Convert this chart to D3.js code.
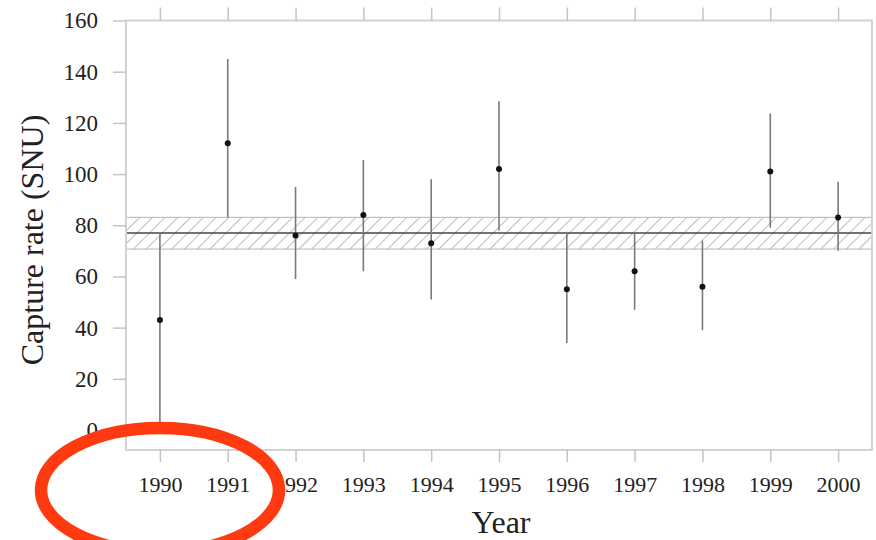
<!DOCTYPE html>
<html>
<head>
<meta charset="utf-8">
<title>Capture rate (SNU) by year</title>
<script src="https://d3js.org/d3.v7.min.js"></script>
<style>
  body { margin: 0; background: #fff; }
  svg text { font-family: "Liberation Serif", "DejaVu Serif", serif; fill: #222; }
</style>
</head>
<body>
<svg width="876" height="540"></svg>
<script>
    // values
    const years = [1990, 1991, 1992, 1993, 1994, 1995, 1996, 1997, 1998, 1999, 2000];
    const rate  = [43, 112, 76, 84, 73, 102, 55, 62, 56, 101, 83];
    const lower = [2, 83, 59, 62, 51, 78, 34, 47, 39, 79, 70];
    const upper = [77, 145, 95, 105.5, 98, 128.5, 77.5, 77, 74, 123.7, 97];
    const yTicks = [0, 20, 40, 60, 80, 100, 120, 140, 160];
    const meanRate = 77;
    const meanBand = [70.7, 83.1];

    const serif = "Liberation Serif, DejaVu Serif, serif";
    const data = years.map((yr, i) => ({year: yr, rate: rate[i], lo: lower[i], hi: upper[i]}));

    const svg = d3.select("svg");

    const x = d3.scaleLinear().domain([1989.5, 2000.5]).range([126, 872]);
    const y = d3.scaleLinear().domain([-7.8, 160]).range([450, 20.5]);

    // hatch pattern for the band
    const defs = svg.append("defs");
    const pat = defs.append("pattern")
        .attr("id", "hatch")
        .attr("patternUnits", "userSpaceOnUse")
        .attr("width", 9).attr("height", 9)
        .attr("patternTransform", "rotate(45)");
    pat.append("line")
        .attr("x1", 0).attr("y1", 0).attr("x2", 0).attr("y2", 9)
        .attr("stroke", "#858585").attr("stroke-width", 1.1);

    // band of the mean
    svg.append("rect")
        .attr("x", x(1989.5))
        .attr("y", y(meanBand[1]))
        .attr("width", x(2000.5) - x(1989.5))
        .attr("height", y(meanBand[0]) - y(meanBand[1]))
        .attr("fill", "url(#hatch)")
        .attr("stroke", "#b4b4b4")
        .attr("stroke-width", 1);

    svg.append("line")
        .attr("x1", x(1989.5)).attr("x2", x(2000.5))
        .attr("y1", y(meanRate)).attr("y2", y(meanRate))
        .attr("stroke", "#444").attr("stroke-width", 1.5);

    // frame
    svg.append("rect")
        .attr("x", x(1989.5)).attr("y", y(160))
        .attr("width", x(2000.5) - x(1989.5))
        .attr("height", y(-7.8) - y(160))
        .attr("fill", "none")
        .attr("stroke", "#d2d2d2")
        .attr("stroke-width", 2);

    // axes
    const yAxis = svg.append("g")
        .attr("transform", "translate(" + x(1989.5) + ",0)")
        .call(d3.axisLeft(y).tickValues(yTicks).tickSize(13).tickPadding(15));
    yAxis.attr("font-family", serif);
    yAxis.select(".domain").remove();
    yAxis.selectAll("line").attr("stroke", "#c4c4c4").attr("stroke-width", 1.5);
    yAxis.selectAll("text").attr("font-size", 23).attr("fill", "#222");

    const xAxis = svg.append("g")
        .attr("transform", "translate(0," + y(-7.8) + ")")
        .call(d3.axisBottom(x).tickValues(years).tickFormat(d3.format("d")).tickSize(12).tickPadding(14));
    xAxis.attr("font-family", serif);
    xAxis.select(".domain").remove();
    xAxis.selectAll("line").attr("stroke", "#c4c4c4").attr("stroke-width", 1.5);
    xAxis.selectAll("text").attr("font-size", 22).attr("fill", "#222");

    const topAxis = svg.append("g")
        .attr("transform", "translate(0," + y(160) + ")")
        .call(d3.axisTop(x).tickValues(years).tickFormat("").tickSize(13));
    topAxis.select(".domain").remove();
    topAxis.selectAll("line").attr("stroke", "#c4c4c4").attr("stroke-width", 1.5);

    // error bars and points
    svg.append("g").selectAll("line").data(data).enter().append("line")
        .attr("x1", d => x(d.year)).attr("x2", d => x(d.year))
        .attr("y1", d => y(d.lo)).attr("y2", d => y(d.hi))
        .attr("stroke", "#7a7a7a").attr("stroke-width", 1.6);

    svg.append("g").selectAll("circle").data(data).enter().append("circle")
        .attr("cx", d => x(d.year))
        .attr("cy", d => y(d.rate))
        .attr("r", 3)
        .attr("fill", "#111");

    // axis titles
    svg.append("text")
        .attr("transform", "translate(43," + 240 + ") rotate(-90)")
        .attr("text-anchor", "middle")
        .attr("font-family", serif)
        .attr("font-size", 32)
        .text("Capture rate (SNU)");

    svg.append("text")
        .attr("x", 501).attr("y", 533)
        .attr("text-anchor", "middle")
        .attr("font-family", serif)
        .attr("font-size", 32)
        .text("Year");

    // red highlight ring
    svg.append("ellipse")
        .attr("cx", 160).attr("cy", 490)
        .attr("rx", 119).attr("ry", 62)
        .attr("fill", "none")
        .attr("stroke", "#ff3a10")
        .attr("stroke-width", 12.5);
</script>
</body>
</html>
